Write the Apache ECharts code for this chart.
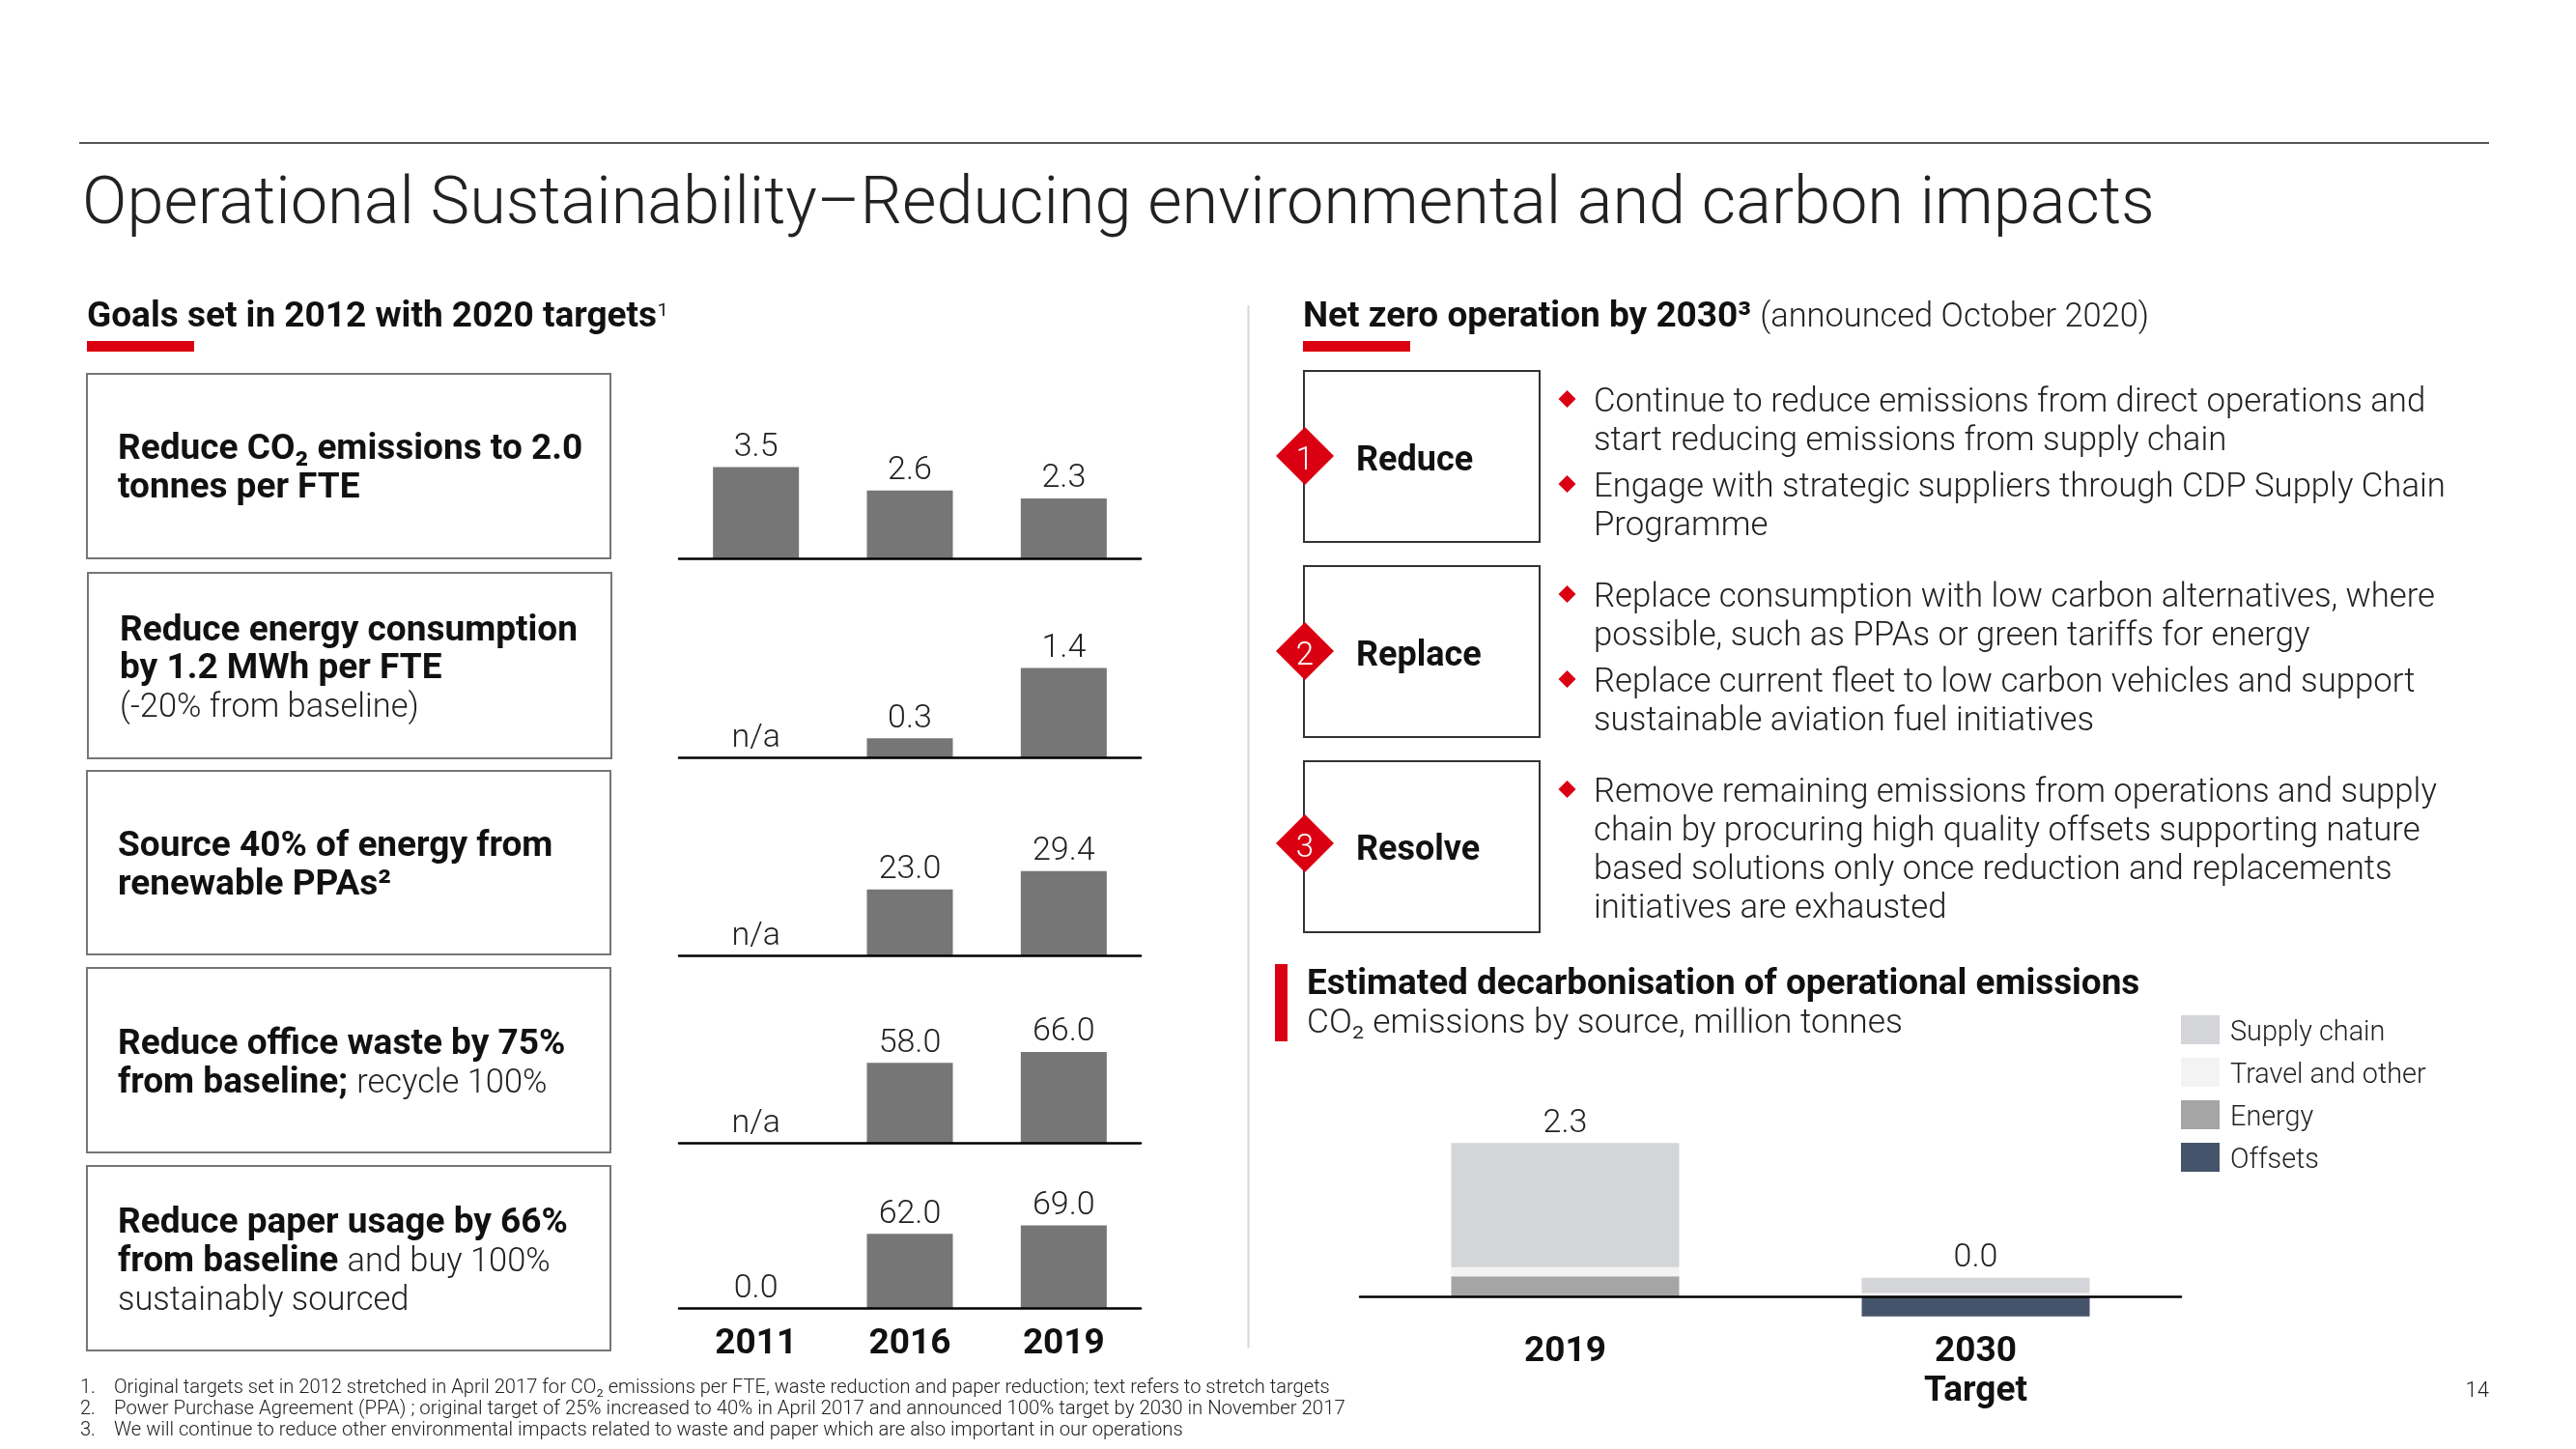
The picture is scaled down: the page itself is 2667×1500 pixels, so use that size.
<!DOCTYPE html>
<html><head><meta charset="utf-8">
<style>html,body{margin:0;padding:0;background:#fff}#c{width:2667px;height:1500px}</style>
<script src="https://cdn.jsdelivr.net/npm/echarts@6/dist/echarts.min.js"></script></head>
<body><div id="c"></div>
<script>
const goalYears = ['2011','2016','2019'];
const co2Values = [3.5,2.6,2.3];
const co2Labels = ['3.5','2.6','2.3'];
const energyValues = [0,0.3,1.4];
const energyLabels = ['n/a','0.3','1.4'];
const renewableValues = [0,23.0,29.4];
const renewableLabels = ['n/a','23.0','29.4'];
const wasteValues = [0,58.0,66.0];
const wasteLabels = ['n/a','58.0','66.0'];
const paperValues = [0,62.0,69.0];
const paperLabels = ['0.0','62.0','69.0'];

const decarbCats = ['2019','2030\nTarget'];
const supplyChain = [1.86,0.23];
const travelOther = [0.14,0.05];
const energySrc = [0.3,0];
const offsets = [0,-0.3];
const decarbTotals = ['2.3','0.0'];
const legendNames = ['Supply chain','Travel and other','Energy','Offsets'];

const FONT='Roboto';
const RED='#DB0011', BAR='#767676', INK='#222222';

const g=[];
function T(x,y,text,o={}){
  g.push({type:'text',x,y,z:10,style:Object.assign({text,fontFamily:FONT,fontSize:35,fontWeight:300,fill:INK,verticalAlign:'middle',align:'left'},o)});
}
function R(x,y,w,h,fill){g.push({type:'rect',shape:{x,y,width:w,height:h},style:{fill},z:5});}
function B(x,y,w,h,stroke,lw){g.push({type:'rect',shape:{x,y,width:w,height:h},style:{fill:'#fff',stroke,lineWidth:lw},z:1});}
function D(cx,cy,r,z=6){g.push({type:'polygon',shape:{points:[[cx,cy-r],[cx+r,cy],[cx,cy+r],[cx-r,cy]]},style:{fill:RED},z});}
const BS=37, LS=34.4;
const richStyles={b:{fontFamily:FONT,fontWeight:700,fill:'#111',fontSize:BS,verticalAlign:'middle'},n:{fontFamily:FONT,fontWeight:300,fill:INK,fontSize:LS,verticalAlign:'middle'}};
function M(x,y,text){
  g.push({type:'text',x,y,z:10,style:{text,rich:richStyles,fontFamily:FONT,fontSize:BS,verticalAlign:'middle',align:'left',fill:INK}});
}

// header
R(82,147,2495,2,'#555');
T(85,214,'Operational Sustainability–Reducing environmental and carbon impacts',{fontSize:68.5});
// section heads
M(90,329,'{b|Goals set in 2012 with 2020 targets}{n|¹}');
R(90,353,111,11,RED);
M(1349,329,'{b|Net zero operation by 2030³ }{n|(announced October 2020)}');
R(1349,353,111,11,RED);
g.push({type:'line',shape:{x1:1292.5,y1:316,x2:1292.5,y2:1395},style:{stroke:'#D7D8D6',lineWidth:2},z:1});

// left boxes
[[90,387,542,191],[91,593,542,192],[90,798,542,190],[90,1002,542,191],[90,1207,542,191]].forEach(b=>B(b[0],b[1],b[2],b[3],'#767676',2));
M(122,466,'{b|Reduce CO₂ emissions to 2.0}');M(122,506,'{b|tonnes per FTE}');
M(124,654,'{b|Reduce energy consumption}');M(124,693,'{b|by 1.2 MWh per FTE}');M(124,733,'{n|(-20% from baseline)}');
M(122,877,'{b|Source 40% of energy from}');M(122,917,'{b|renewable PPAs²}');
M(122,1082,'{b|Reduce office waste by 75%}');M(122,1122,'{b|from baseline; }{n|recycle 100%}');
M(122,1267,'{b|Reduce paper usage by 66%}');M(122,1307,'{b|from baseline }{n|and buy 100%}');M(122,1347,'{n|sustainably sourced}');

// right boxes
[[1350,384,244,177],[1350,586,244,177],[1350,788,244,177]].forEach(b=>B(b[0],b[1],b[2],b[3],'#333',2));
[[472,'1','Reduce',478],[674,'2','Replace',680],[873,'3','Resolve',881]].forEach(a=>{
  D(1351,a[0],30);
  T(1351,a[0]+6,a[1],{fontSize:33,fill:'#fff',align:'center'});
  T(1404,a[3],a[2],{fontSize:36,fontWeight:700,fill:'#111'});
});
[413,501,615,703,817].forEach(y=>D(1622.5,y,9));
[['Continue to reduce emissions from direct operations and',417],['start reducing emissions from supply chain',457],
 ['Engage with strategic suppliers through CDP Supply Chain',505],['Programme',545],
 ['Replace consumption with low carbon alternatives, where',619],['possible, such as PPAs or green tariffs for energy',659],
 ['Replace current fleet to low carbon vehicles and support',707],['sustainable aviation fuel initiatives',747],
 ['Remove remaining emissions from operations and supply',821],['chain by procuring high quality offsets supporting nature',861],
 ['based solutions only once reduction and replacements',901],['initiatives are exhausted',941]].forEach(l=>T(1650,l[1],l[0],{fontSize:34.7}));

// decarb heading
R(1320,998,13,80,RED);
T(1353,1020,'Estimated decarbonisation of operational emissions',{fontSize:36.9,fontWeight:700,fill:'#111'});
T(1353,1060,'CO₂ emissions by source, million tonnes',{fontSize:35.3});

// footnotes
[['1.','Original targets set in 2012 stretched in April 2017 for CO₂ emissions per FTE, waste reduction and paper reduction; text refers to stretch targets',1437,20.13],
 ['2.','Power Purchase Agreement (PPA) ; original target of 25% increased to 40% in April 2017 and announced 100% target by 2030 in November 2017',1459,20.33],
 ['3.','We will continue to reduce other environmental impacts related to waste and paper which are also important in our operations',1481,20.2]].forEach(f=>{
  T(83,f[2],f[0],{fontSize:20,fontWeight:300,fill:'#222'});T(118,f[2],f[1],{fontSize:f[3],fontWeight:300,fill:'#222'});
});
T(2577,1440,'14',{fontSize:22,align:'right',fontWeight:300,fill:'#222'});

// small multiple charts
const charts=[
 {v:co2Values,l:co2Labels,base:578,max:4,h:108},
 {v:energyValues,l:energyLabels,base:784,max:1.5,h:99},
 {v:renewableValues,l:renewableLabels,base:989,max:35,h:104},
 {v:wasteValues,l:wasteLabels,base:1183,max:80,h:114},
 {v:paperValues,l:paperLabels,base:1354,max:80,h:99}
];
const grids=[],xAxes=[],yAxes=[],series=[];
charts.forEach((c,i)=>{
  grids.push({left:703,width:478,top:c.base-c.h,height:c.h});
  xAxes.push({type:'category',gridIndex:i,data:goalYears,z:5,
    axisLine:{show:true,lineStyle:{color:'#000',width:2.5}},axisTick:{show:false},
    axisLabel:{show:i===4,margin:19,fontFamily:FONT,fontWeight:700,fontSize:37,color:'#111'}});
  yAxes.push({type:'value',gridIndex:i,min:0,max:c.max,show:false});
  series.push({type:'bar',xAxisIndex:i,yAxisIndex:i,data:c.v,barWidth:89,itemStyle:{color:BAR},
    label:{show:true,position:'top',distance:3,fontFamily:FONT,fontWeight:300,fontSize:34,color:INK,formatter:p=>c.l[p.dataIndex]}});
});
// decarbonisation chart
grids.push({left:1408,width:850,top:1135,height:241.5});
xAxes.push({type:'category',gridIndex:5,data:decarbCats,z:5,
  axisLine:{show:true,onZero:true,lineStyle:{color:'#000',width:2.5}},axisTick:{show:false},
  axisLabel:{margin:3,fontFamily:FONT,fontWeight:700,fontSize:37,lineHeight:41,color:'#111'}});
yAxes.push({type:'value',gridIndex:5,min:-0.5,max:3,show:false});
const stackOpt=(name,data,color)=>({type:'bar',name,xAxisIndex:5,yAxisIndex:5,stack:'d',data,barWidth:236,itemStyle:{color}});
series.push(stackOpt('Energy',energySrc,'#A5A5A5'));
series.push(stackOpt('Travel and other',travelOther,'#F3F3F3'));
const sc=stackOpt('Supply chain',supplyChain,'#D4D5D9');
sc.label={show:true,position:'top',distance:3,fontFamily:FONT,fontWeight:300,fontSize:34,color:INK,formatter:p=>decarbTotals[p.dataIndex]};
series.push(sc);
series.push(stackOpt('Offsets',offsets,'#46546B'));

const chart=echarts.init(document.getElementById('c'),null,{renderer:'canvas'});
chart.setOption({animation:false,backgroundColor:'#fff',grid:grids,xAxis:xAxes,yAxis:yAxes,series,
  legend:{data:legendNames,orient:'vertical',left:2258,top:1051,padding:0,itemWidth:40,itemHeight:30,itemGap:11,icon:'rect',
    formatter:n=>`{a|${n}}`,
    textStyle:{fontFamily:FONT,fontWeight:300,fontSize:28.8,color:INK,
      rich:{a:{fontFamily:FONT,fontWeight:300,fontSize:28.8,color:INK,padding:[7,0,0,6]}}}},
  graphic:{elements:g}});
</script></body></html>
